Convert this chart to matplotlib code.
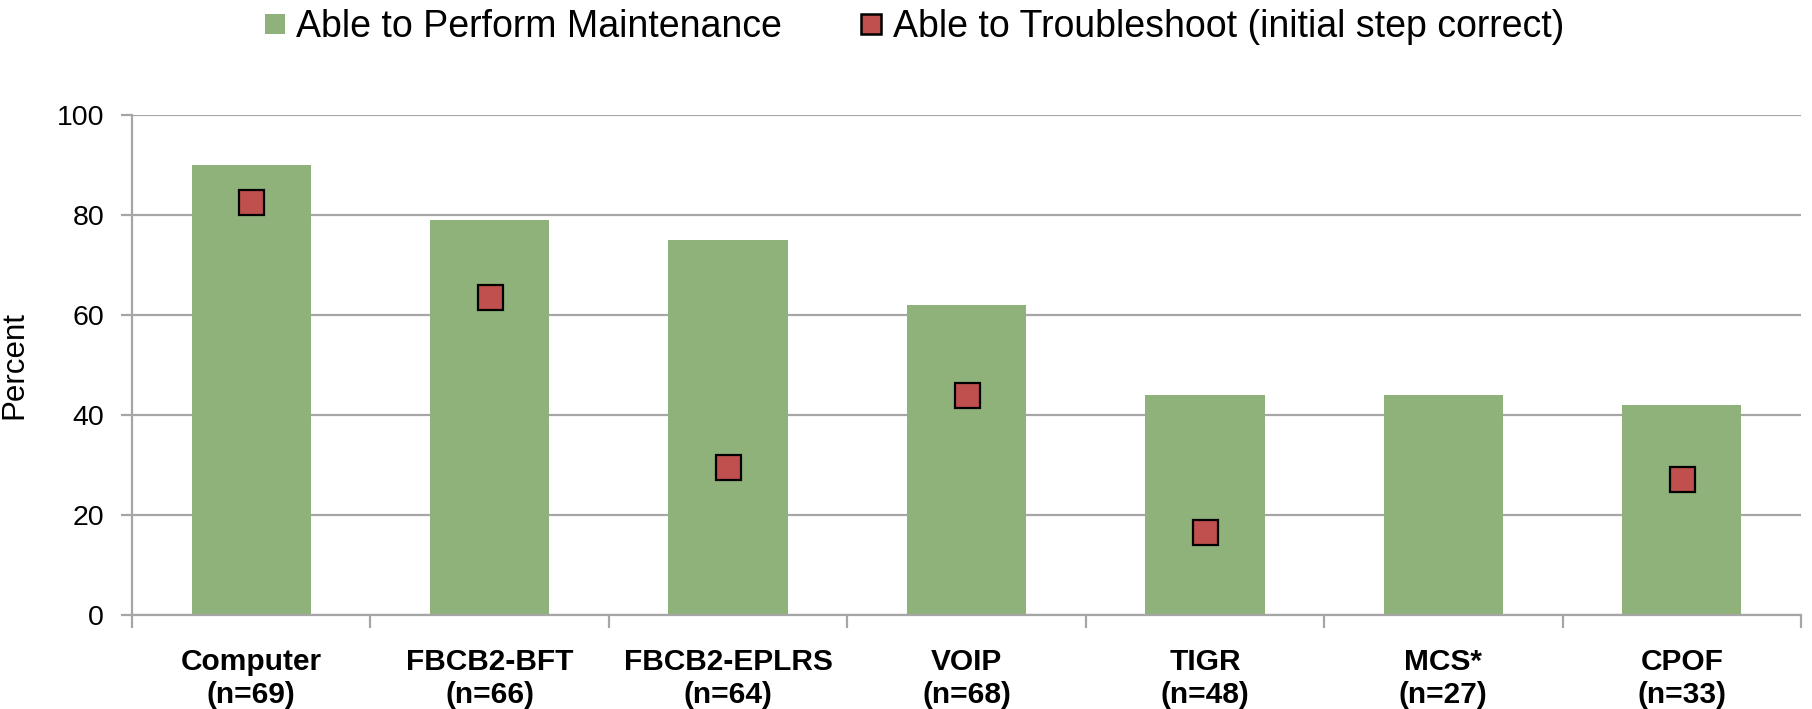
import matplotlib
matplotlib.use("Agg")
import matplotlib.pyplot as plt
from matplotlib.lines import Line2D
import numpy as np

plt.rcParams['font.family'] = ['Liberation Sans', 'DejaVu Sans']

categories = ["Computer", "FBCB2-BFT", "FBCB2-EPLRS", "VOIP", "TIGR", "MCS*", "CPOF"]
sample_sizes = [69, 66, 64, 68, 48, 27, 33]
maintenance = [90, 79, 75, 62, 44, 44, 42]
troubleshoot = [82.6, 63.6, 29.6, 44.1, 16.6, np.nan, 27.2]
yticks = [0, 20, 40, 60, 80, 100]

green = '#8eb27a'
red = '#c0504d'
grid_c = '#a6a6a6'

fig = plt.figure(figsize=(18.12, 7.09), dpi=100)
ax = fig.add_axes([132/1812, 94/709, (1801-132)/1812, 500/709])

x = np.arange(len(categories))
ax.bar(x, maintenance, width=0.5, color=green, zorder=2)
ax.plot(x, troubleshoot, linestyle='none', marker='s', markersize=18,
        markerfacecolor=red, markeredgecolor='black', markeredgewidth=1.6, zorder=3)

ax.set_xlim(-0.5, len(categories) - 0.5)
ax.set_ylim(0, 100)
ax.set_yticks(yticks)
ax.set_yticklabels([str(v) for v in yticks], fontsize=20.5)
ax.yaxis.grid(True, color=grid_c, linewidth=1.6, zorder=1)
ax.set_axisbelow(True)

ax.set_xticks(x)
ax.set_xticklabels([f"{c}\n(n={n})" for c, n in zip(categories, sample_sizes)],
                   fontsize=21.5, fontweight='bold', linespacing=1.2)
ax.tick_params(axis='x', length=0, pad=24)
# category boundary ticks
ax.set_xticks(np.arange(-0.5, len(categories), 1.0), minor=True)
ax.tick_params(axis='x', which='minor', length=9, width=1.6, color=grid_c, direction='out')
ax.tick_params(axis='y', length=8, width=1.6, color=grid_c, pad=12)

for s in ['top', 'right']:
    ax.spines[s].set_visible(False)
for s in ['left', 'bottom']:
    ax.spines[s].set_color(grid_c)
    ax.spines[s].set_linewidth(1.6)

ax.set_ylabel("Percent", fontsize=22.5, labelpad=20)

handles = [
    Line2D([], [], linestyle='none', marker='s', markersize=14,
           markerfacecolor=green, markeredgecolor=green, markeredgewidth=0),
    Line2D([], [], linestyle='none', marker='s', markersize=15,
           markerfacecolor=red, markeredgecolor='black', markeredgewidth=1.8),
]
fig.legend(handles, ["Able to Perform Maintenance", "Able to Troubleshoot (initial step correct)"],
           loc='upper center', bbox_to_anchor=(0.5045, 1.035), ncol=2, frameon=False,
           fontsize=27, handlelength=0.55, handletextpad=0.3, columnspacing=2.1)

fig.savefig("out.png", dpi=100)
